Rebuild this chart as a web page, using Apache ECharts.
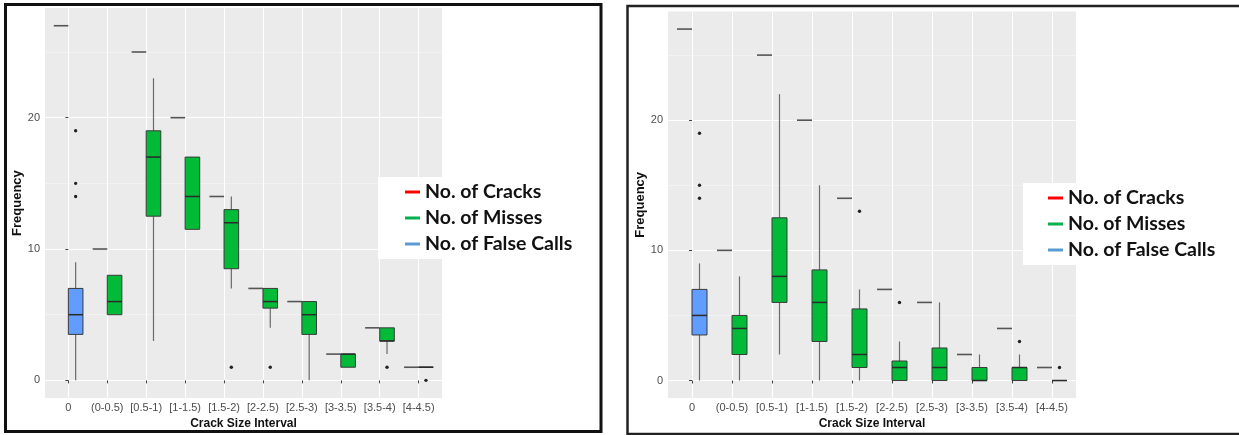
<!DOCTYPE html>
<html>
<head>
<meta charset="utf-8">
<script src="https://cdn.jsdelivr.net/npm/echarts@6/dist/echarts.min.js"></script>
<style>
html, body { margin: 0; padding: 0; background: #fff; }
#main { width: 1239px; height: 435px; }
</style>
</head>
<body>
<div id="main"></div>
<script>
var categories = ['0', '(0-0.5)', '[0.5-1)', '[1-1.5)', '[1.5-2)', '[2-2.5)', '[2.5-3)', '[3-3.5)', '[3.5-4)', '[4-4.5)'];
var catIndex = [0, 1, 2, 3, 4, 5, 6, 7, 8, 9];
var yTicks = [0, 10, 20];
var yMinorTicks = [5, 15, 25];
var legendNames = ['No. of Cracks', 'No. of Misses', 'No. of False Calls'];

// left panel: [category, min, q1, median, q3, max]
var cracksA = [27, 10, 25, 20, 14, 7, 6, 2, 4, 1];
var missesA = [
    [1, 5, 5, 6, 8, 8],
    [2, 3, 12.5, 17, 19, 23],
    [3, 11.5, 11.5, 14, 17, 17],
    [4, 7, 8.5, 12, 13, 14],
    [5, 4, 5.5, 6, 7, 7],
    [6, 0, 3.5, 5, 6, 6],
    [7, 1, 1, 2, 2, 2],
    [8, 2, 3, 3, 4, 4],
    [9, 1, 1, 1, 1, 1]
];
var missesOutA = [[4, 1], [5, 1], [8, 1], [9, 0]];
var falseA = [[0, 0, 3.5, 5, 7, 9]];
var falseOutA = [[0, 19], [0, 15], [0, 14]];

// right panel
var cracksB = [27, 10, 25, 20, 14, 7, 6, 2, 4, 1];
var missesB = [
    [1, 0, 2, 4, 5, 8],
    [2, 2, 6, 8, 12.5, 22],
    [3, 0, 3, 6, 8.5, 15],
    [4, 0, 1, 2, 5.5, 7],
    [5, 0, 0, 1, 1.5, 3],
    [6, 0, 0, 1, 2.5, 6],
    [7, 0, 0, 0, 1, 2],
    [8, 0, 0, 1, 1, 2],
    [9, 0, 0, 0, 0, 0]
];
var missesOutB = [[4, 13], [5, 6], [8, 3], [9, 1]];
var falseB = [[0, 0, 3.5, 5, 7, 9]];
var falseOutB = [[0, 19], [0, 15], [0, 14]];

// two groups per category (dodged like ggplot)
var DODGE = 0.1875;
var BOXW = 0.375;

function renderCrack(params, api) {
    var c = api.value(0), v = api.value(1);
    var p0 = api.coord([c - DODGE - BOXW / 2, v]);
    var p1 = api.coord([c - DODGE + BOXW / 2, v]);
    return {
        type: 'line',
        shape: { x1: p0[0], y1: p0[1], x2: p1[0], y2: p1[1] },
        style: { stroke: '#555', lineWidth: 1.6 }
    };
}

function boxRenderer(fill) {
    return function (params, api) {
        var c = api.value(0) + DODGE;
        var lo = api.coord([c, api.value(1)]);
        var q1 = api.coord([c, api.value(2)]);
        var md = api.coord([c, api.value(3)]);
        var q3 = api.coord([c, api.value(4)]);
        var hi = api.coord([c, api.value(5)]);
        var w = api.size([BOXW, 0])[0];
        var x0 = lo[0] - w / 2;
        return {
            type: 'group',
            children: [
                { type: 'line', shape: { x1: lo[0], y1: lo[1], x2: q1[0], y2: q1[1] }, style: { stroke: '#6a6a6a', lineWidth: 1.2 } },
                { type: 'line', shape: { x1: q3[0], y1: q3[1], x2: hi[0], y2: hi[1] }, style: { stroke: '#6a6a6a', lineWidth: 1.2 } },
                { type: 'rect', shape: { x: x0, y: q3[1], width: w, height: q1[1] - q3[1] }, style: { fill: fill, stroke: '#3a3a3a', lineWidth: 1 } },
                { type: 'line', shape: { x1: x0, y1: md[1], x2: x0 + w, y2: md[1] }, style: { stroke: '#2a2a2a', lineWidth: 1.5 } }
            ]
        };
    };
}

function renderOutlier(params, api) {
    var p = api.coord([api.value(0) + DODGE, api.value(1)]);
    return { type: 'circle', shape: { cx: p[0], cy: p[1], r: 1.7 }, style: { fill: '#222' } };
}

function panelAxes(gridIndex) {
    var x = {
        type: 'value', gridIndex: gridIndex, min: -0.6, max: 9.6,
        axisLine: { show: false },
        axisTick: { customValues: catIndex, length: 3, lineStyle: { color: '#444' } },
        axisLabel: {
            customValues: catIndex, margin: 4, fontSize: 11, color: '#4d4d4d', fontFamily: 'Liberation Sans',
            formatter: function (v) { return categories[Math.round(v)]; }
        },
        splitLine: { show: true, lineStyle: { color: '#fff', width: 1 } },
        name: 'Crack Size Interval', nameLocation: 'middle', nameGap: 16,
        nameTextStyle: { fontSize: 12, fontWeight: 'bold', color: '#111', fontFamily: 'Liberation Sans' }
    };
    var y = {
        type: 'value', gridIndex: gridIndex, min: -1.35, max: 28.35,
        axisLine: { show: false },
        axisTick: { customValues: yTicks, length: 3, lineStyle: { color: '#444' } },
        axisLabel: { customValues: yTicks, margin: 5, fontSize: 11, color: '#4d4d4d', fontFamily: 'Liberation Sans' },
        splitLine: { show: true, lineStyle: { color: '#fff', width: 1.1 } },
        name: 'Frequency', nameLocation: 'middle', nameGap: 21,
        nameTextStyle: { fontSize: 13, fontWeight: 'bold', color: '#111', fontFamily: 'Liberation Sans' }
    };
    var yMinor = {
        type: 'value', gridIndex: gridIndex, min: -1.35, max: 28.35,
        axisLine: { show: false },
        axisTick: { show: false, customValues: yMinorTicks },
        axisLabel: { show: false },
        splitLine: { show: true, lineStyle: { color: '#f7f7f7', width: 0.6 } }
    };
    return { x: x, y: [y, yMinor] };
}

function panelSeries(xi, yi, cracks, misses, missesOut, falseCalls, falseOut) {
    return [
        {
            name: 'No. of Cracks', type: 'custom', xAxisIndex: xi, yAxisIndex: yi,
            itemStyle: { color: '#ff0000' }, renderItem: renderCrack,
            data: cracks.map(function (v, i) { return [i, v]; })
        },
        {
            name: 'No. of Misses', type: 'custom', xAxisIndex: xi, yAxisIndex: yi,
            itemStyle: { color: '#00b04f' }, renderItem: boxRenderer('#00ba38'),
            data: misses
        },
        {
            name: 'No. of False Calls', type: 'custom', xAxisIndex: xi, yAxisIndex: yi,
            itemStyle: { color: '#5b9bd5' }, renderItem: boxRenderer('#619cff'),
            data: falseCalls
        },
        {
            type: 'custom', xAxisIndex: xi, yAxisIndex: yi, renderItem: renderOutlier,
            data: missesOut.concat(falseOut)
        }
    ];
}

var axA = panelAxes(0);
var axB = panelAxes(1);

var legendBase = {
    orient: 'vertical', data: legendNames, icon: 'rect', itemWidth: 15, itemHeight: 3, itemGap: 6,
    backgroundColor: '#fff', selectedMode: false,
    textStyle: { fontFamily: 'Lato', fontWeight: 'bold', fontSize: 19.5, color: '#111', lineHeight: 20 }
};

var myChart = echarts.init(document.getElementById('main'));
var option = {
    backgroundColor: '#fff',
    animation: false,
    grid: [
        { left: 45, top: 8, width: 397, height: 394, show: true, backgroundColor: '#ebebeb', borderWidth: 0 },
        { left: 668, top: 11.5, width: 408, height: 390.5, show: true, backgroundColor: '#ebebeb', borderWidth: 0 }
    ],
    xAxis: [axA.x, axB.x],
    yAxis: [axA.y[0], axA.y[1], axB.y[0], axB.y[1]],
    legend: [
        Object.assign({}, legendBase, { left: 378, top: 177, padding: [5, 30, 5, 27] }),
        Object.assign({}, legendBase, { left: 1023, top: 183, padding: [5, 30, 5, 25] })
    ],
    graphic: [
        { type: 'rect', shape: { x: 5.5, y: 4.5, width: 595.5, height: 427 }, style: { fill: 'none', stroke: '#111', lineWidth: 3 }, z: 100 },
        { type: 'rect', shape: { x: 627.5, y: 6, width: 640, height: 428 }, style: { fill: 'none', stroke: '#222', lineWidth: 2.5 }, z: 100 }
    ],
    series: panelSeries(0, 0, cracksA, missesA, missesOutA, falseA, falseOutA)
        .concat(panelSeries(1, 2, cracksB, missesB, missesOutB, falseB, falseOutB))
};
myChart.setOption(option);
</script>
</body>
</html>
